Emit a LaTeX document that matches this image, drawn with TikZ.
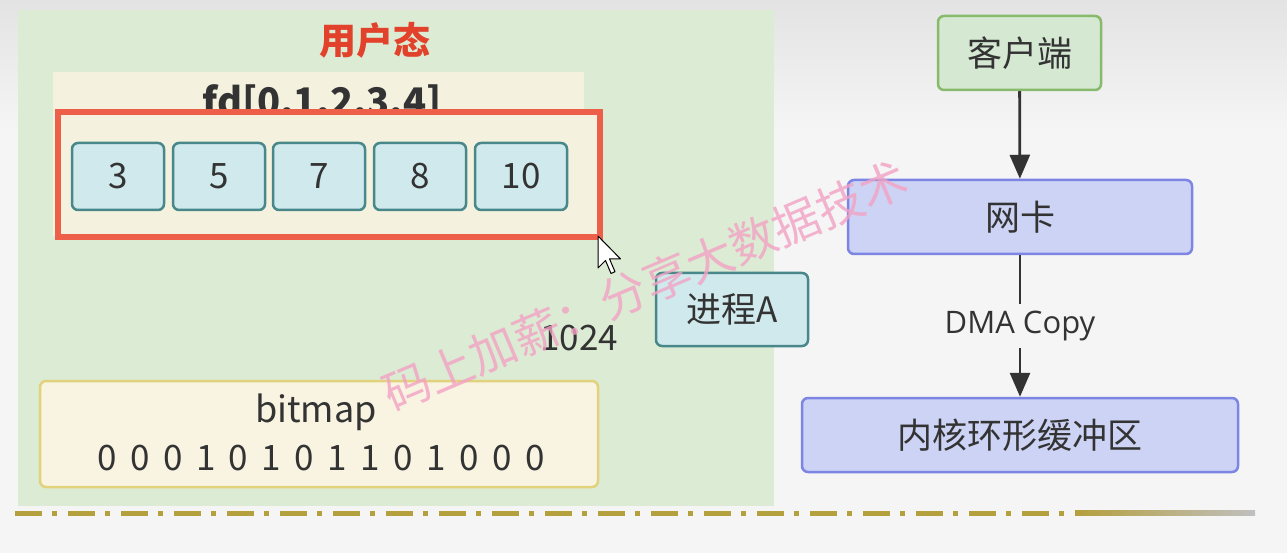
\documentclass[tikz,border=0pt]{standalone}
\usepackage{fontspec}
\setmainfont{Noto Sans CJK SC}
\newfontfamily\opensans{Open Sans}
\usetikzlibrary{arrows.meta}
\definecolor{bgc}{HTML}{F5F5F5}
\definecolor{panel}{HTML}{DCEBD3}
\definecolor{cream}{HTML}{F4F1DE}
\definecolor{redb}{HTML}{EE5F4A}
\definecolor{cyanf}{HTML}{CFE9ED}
\definecolor{teal}{HTML}{48888A}
\definecolor{bitf}{HTML}{F8F4E1}
\definecolor{bitb}{HTML}{E3D27C}
\definecolor{grf}{HTML}{D5E8D2}
\definecolor{grb}{HTML}{88BA6C}
\definecolor{blf}{HTML}{CDD3F4}
\definecolor{blb}{HTML}{7C84E4}
\definecolor{txt}{HTML}{333333}
\definecolor{gold}{HTML}{B5A03E}
\definecolor{titlered}{HTML}{E2412B}
\definecolor{wm}{HTML}{F2A2C4}
\tikzset{
  box/.style={draw, rounded corners=6pt, line width=2.5pt, inner sep=0pt, text=txt,
    font=\fontsize{35}{40}\selectfont},
  cell/.style={box, fill=cyanf, draw=teal, minimum width=92pt, minimum height=67pt},
  flow/.style={box, fill=blf, draw=blb, minimum height=74pt},
  conn/.style={draw=txt, line width=2.8pt, -{Triangle[width=20pt,length=24pt]}},
  plain/.style={text=txt, inner sep=0pt, font=\fontsize{35}{40}\selectfont},
}
\begin{document}
\begin{tikzpicture}[x=1pt,y=-1pt]
\useasboundingbox (0,0) rectangle (1287,553);
\fill[bgc] (0,0) rectangle (1287,553);
\shade[top color=black!11, bottom color=bgc] (0,0) rectangle (1287,130);
% user-space panel
\fill[panel] (18,10) rectangle (774,506);
\node[text=titlered, font=\bfseries\fontsize{37}{40}\selectfont] (title) at (375,40) {用户态};
\fill[cream] (53,72) rectangle (584,236);
\node[text=txt, font=\bfseries\fontsize{38}{40}\selectfont] (fd) at (322,104) {fd[0,1,2,3,4]};
\node[draw=redb, fill=cream, line width=6pt, minimum width=542pt, minimum height=125pt, inner sep=0pt] (red) at (329,174.5) {};
\node[cell] (c1) at (118,176.5) {3};
\node[cell] (c2) at (219,176.5) {5};
\node[cell] (c3) at (319,176.5) {7};
\node[cell] (c4) at (420,176.5) {8};
\node[cell] (c5) at (521,176.5) {10};
\node[cell, minimum width=152pt, minimum height=73pt] (proc) at (732,309.5) {进程A};
\node[plain] (n1024) at (579,338) {1024};
\node[box, fill=bitf, draw=bitb, minimum width=558pt, minimum height=106pt] (bm) at (319,434) {};
\node[plain, font=\fontsize{36}{40}\selectfont] (bmt) at (316,412) {bitmap};
\node[plain] (bits) at (321,458) {\spaceskip13.5pt\relax 0 0 0 1 0 1 0 1 1 0 1 0 0 0};
% right flow
\node[box, fill=grf, draw=grb, minimum width=163pt, minimum height=74pt] (client) at (1019.5,53) {客户端};
\node[flow, minimum width=344pt] (nic) at (1020,217) {网卡};
\node[flow, minimum width=436pt] (ring) at (1020,435) {内核环形缓冲区};
\draw[conn] (client) -- (nic);
\draw[conn] (nic) -- node[fill=bgc, text=txt, inner sep=7pt, font=\opensans\fontsize{31}{34}\selectfont] (dma) {DMA Copy} (ring);
% separator
\draw[gold, line width=5pt, dash pattern=on 27pt off 10pt on 5pt off 11pt] (15,513) -- (1075,513);
\shade[left color=gold, right color=black!25] (1075,510.5) rectangle (1255,515.5);
% mouse cursor
\draw[black, fill=white, line width=1pt, line join=round] (598,236) -- ++(0,32) -- ++(7.5,-7.5) -- ++(5.5,13) -- ++(4,-1.8) -- ++(-5.5,-12.8) -- ++(11,0) -- cycle;
% watermark
\node[text=wm, opacity=0.8, rotate=23, font=\fontsize{47}{50}\selectfont] (wmk) at (645,286) {码上加薪：分享大数据技术};
\end{tikzpicture}
\end{document}
